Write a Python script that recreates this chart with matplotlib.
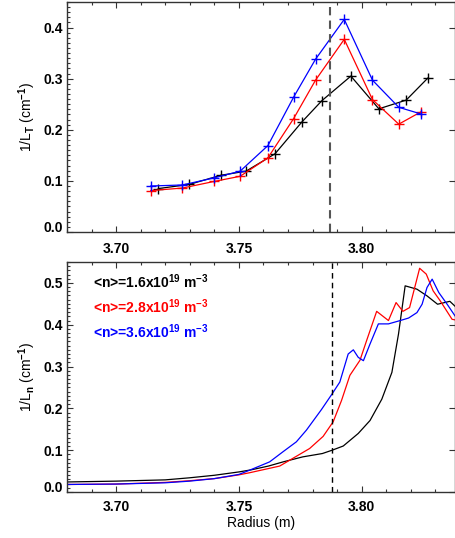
import matplotlib
matplotlib.use('Agg')
import matplotlib.pyplot as plt
from matplotlib.ticker import MultipleLocator, FixedLocator

plt.rcParams['font.family'] = 'Liberation Sans'
plt.rcParams['font.weight'] = 'bold'
plt.rcParams['font.size'] = 10
plt.rcParams['mathtext.fontset'] = 'custom'
plt.rcParams['mathtext.rm'] = 'Liberation Sans:bold'
plt.rcParams['mathtext.bf'] = 'Liberation Sans:bold'
plt.rcParams['mathtext.it'] = 'Liberation Sans:bold'
plt.rcParams['mathtext.default'] = 'bf'

# 1/L_T profiles (top panel)
lt_r_lo = [3.7141, 3.727, 3.740, 3.7505, 3.7618, 3.7723, 3.7812, 3.7929, 3.8044, 3.8151, 3.8241]
lt_v_lo = [0.081, 0.086, 0.099, 0.109, 0.145, 0.222, 0.297, 0.377, 0.259, 0.211, 0.235]
lt_r_mid = [3.7141, 3.727, 3.740, 3.7505, 3.7618, 3.7723, 3.7812, 3.7929, 3.8044, 3.8151, 3.8241]
lt_v_mid = [0.090, 0.092, 0.106, 0.119, 0.169, 0.264, 0.338, 0.416, 0.297, 0.244, 0.231]
lt_r_blk = [3.7172, 3.7297, 3.7427, 3.7529, 3.7647, 3.7756, 3.7838, 3.7956, 3.8070, 3.8181, 3.8269]
lt_v_blk = [0.085, 0.093, 0.111, 0.119, 0.153, 0.215, 0.257, 0.305, 0.241, 0.258, 0.301]

# 1/L_n profiles (bottom panel)
ln_r_blk = [3.68, 3.70, 3.72, 3.73, 3.74, 3.75, 3.755, 3.762, 3.768, 3.776, 3.784, 3.788,
            3.7925, 3.7986, 3.8034, 3.8082, 3.8123, 3.815, 3.8177, 3.8225, 3.8266, 3.8309,
            3.8359, 3.8386]
ln_v_blk = [0.024, 0.026, 0.029, 0.034, 0.040, 0.048, 0.053, 0.062, 0.072, 0.084, 0.092, 0.100,
            0.110, 0.140, 0.171, 0.222, 0.286, 0.378, 0.493, 0.485, 0.469, 0.449,
            0.456, 0.441]
ln_r_red = [3.68, 3.70, 3.72, 3.73, 3.74, 3.75, 3.7543, 3.7666, 3.7788, 3.7843, 3.7884, 3.7918,
            3.7952, 3.7993, 3.802, 3.8061, 3.8109, 3.814, 3.8168, 3.8195, 3.8236, 3.8263,
            3.8291, 3.832, 3.8368, 3.8386]
ln_v_red = [0.018, 0.019, 0.023, 0.027, 0.032, 0.041, 0.046, 0.062, 0.104, 0.133, 0.168, 0.219,
            0.279, 0.315, 0.362, 0.432, 0.410, 0.453, 0.432, 0.441, 0.535, 0.521,
            0.481, 0.457, 0.413, 0.411]
ln_r_blu = [3.68, 3.70, 3.72, 3.73, 3.74, 3.75, 3.7543, 3.7625, 3.7679, 3.7734, 3.7775, 3.7836,
            3.788, 3.7911, 3.7945, 3.7966, 3.7986, 3.8007, 3.8034, 3.8068, 3.8109, 3.8157,
            3.8191, 3.8225, 3.8246, 3.8266, 3.8287, 3.8314, 3.8348, 3.8386]
ln_v_blu = [0.018, 0.019, 0.022, 0.026, 0.032, 0.042, 0.052, 0.072, 0.096, 0.120, 0.148, 0.197,
            0.235, 0.263, 0.330, 0.340, 0.322, 0.314, 0.354, 0.402, 0.402, 0.410,
            0.416, 0.429, 0.449, 0.489, 0.509, 0.477, 0.449, 0.416]

legend_labels = [r'<n>=1.6x10$^{19}$ m$^{-3}$',
                 r'<n>=2.8x10$^{19}$ m$^{-3}$',
                 r'<n>=3.6x10$^{19}$ m$^{-3}$']
sep_r = 3.7875
top_yticks = [0.0, 0.1, 0.2, 0.3, 0.4]
bot_yticks = [0.0, 0.1, 0.2, 0.3, 0.4, 0.5]
xticks = [3.70, 3.75, 3.80]

W, H = 456, 538
fig = plt.figure(figsize=(W / 100, H / 100), dpi=100)
ax1 = fig.add_axes([67 / W, 1 - 232 / H, 388 / W, 230 / H])
ax2 = fig.add_axes([67 / W, 1 - 492 / H, 388 / W, 230 / H])


def style(ax, ylo, yhi, yt, xpad):
    ax.set_xlim(3.68, 3.838)
    ax.set_ylim(ylo, yhi)
    ax.xaxis.set_major_locator(FixedLocator(xticks))
    ax.xaxis.set_minor_locator(MultipleLocator(0.01))
    ax.yaxis.set_major_locator(FixedLocator(yt))
    ax.yaxis.set_minor_locator(MultipleLocator(0.01))
    ax.set_xticklabels(['%.2f' % t for t in xticks])
    labels = ax.set_yticklabels(['%.1f' % t for t in yt])
    labels[0].set_verticalalignment('baseline')
    ax.tick_params(axis='both', which='both', direction='in', width=0.8, color='#333333')
    ax.tick_params(axis='x', which='both', top=True, bottom=True, pad=xpad)
    ax.tick_params(axis='y', which='major', left=True, right=True, pad=3)
    ax.tick_params(axis='y', which='minor', left=True, right=False)
    ax.tick_params(which='major', length=4)
    ax.tick_params(which='minor', length=2)
    for s in ax.spines.values():
        s.set_linewidth(1.0)
        s.set_color('#333333')


# top panel
ax1.plot(lt_r_blk, lt_v_blk, color='black', lw=0.9, marker='+', ms=6.5, mew=1.0)
ax1.plot(lt_r_lo, lt_v_lo, color='red', lw=0.9, marker='+', ms=6.5, mew=1.0)
ax1.plot(lt_r_mid, lt_v_mid, color='blue', lw=0.9, marker='+', ms=6.5, mew=1.0)
ax1.axvline(sep_r - 0.0005, color='#555555', lw=1.5, ls=(0, (4, 2.5)))
ax1.set_ylabel(r'1/L$_T$ (cm$^{-1}$)', fontsize=10, labelpad=4)
style(ax1, 0.0, 0.45, top_yticks, 7)

# bottom panel
ax2.plot(ln_r_blk, ln_v_blk, color='black', lw=0.9)
ax2.plot(ln_r_red, ln_v_red, color='red', lw=0.9)
ax2.plot(ln_r_blu, ln_v_blu, color='blue', lw=0.9)
ax2.axvline(sep_r + 0.0005, color='black', lw=1.0, ls=(0, (4, 3)))
ax2.set_ylabel(r'1/L$_n$ (cm$^{-1}$)', fontsize=10, labelpad=4)
ax2.set_xlabel('Radius (m)', fontsize=10, labelpad=1)
for lab, col, yy in zip(legend_labels, ['black', 'red', 'blue'], [0.915, 0.806, 0.698]):
    ax2.text(0.066, yy, lab, color=col, transform=ax2.transAxes, fontsize=10,
             va='center', ha='left')
style(ax2, 0.0, 0.55, bot_yticks, 6)

fig.savefig('out.png', dpi=100)
